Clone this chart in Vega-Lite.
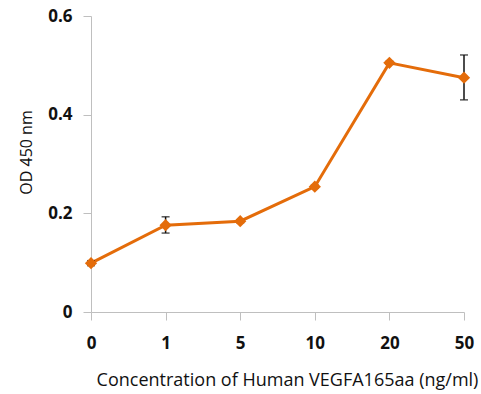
{
  "$schema": "https://vega.github.io/schema/vega-lite/v6.json",
  "width": 373,
  "height": 296,
  "autosize": {"type": "none"},
  "padding": {"left": 91, "top": 16, "right": 17, "bottom": 82},
  "background": "white",
  "config": {"view": {"stroke": null}, "font": "Open Sans"},
  "data": {"values": [
    {"conc": "0", "od": 0.099, "lo": 0.094, "hi": 0.104},
    {"conc": "1", "od": 0.176, "lo": 0.160, "hi": 0.193},
    {"conc": "5", "od": 0.184, "lo": 0.181, "hi": 0.187},
    {"conc": "10", "od": 0.254, "lo": 0.251, "hi": 0.257},
    {"conc": "20", "od": 0.505, "lo": 0.502, "hi": 0.508},
    {"conc": "50", "od": 0.475, "lo": 0.430, "hi": 0.521}
  ]},
  "encoding": {
    "x": {
      "field": "conc", "type": "ordinal", "sort": ["0", "1", "5", "10", "20", "50"],
      "scale": {"type": "point", "padding": 0},
      "axis": {
        "title": "Concentration of Human VEGFA165aa (ng/ml)",
        "labelAngle": 0, "labelFont": "Open Sans", "labelFontWeight": "bold", "labelFontSize": 17,
        "labelColor": "#111", "labelPadding": 15,
        "titleFont": "Open Sans", "titleFontWeight": "normal", "titleFontSize": 18, "titleColor": "#111",
        "titlePadding": 20, "titleX": 196,
        "domainColor": "#bfbfbf", "tickColor": "#bfbfbf", "tickSize": 8, "grid": false
      }
    }
  },
  "layer": [
    {
      "mark": {"type": "line", "color": "#E46C0A", "strokeWidth": 3},
      "encoding": {
        "y": {
          "field": "od", "type": "quantitative",
          "scale": {"domain": [0, 0.6], "nice": false},
          "axis": {
            "title": "OD 450 nm", "values": [0, 0.2, 0.4, 0.6], "format": "~g",
            "labelFont": "Open Sans", "labelFontWeight": "bold", "labelFontSize": 17, "labelColor": "#111",
            "labelPadding": 11,
            "titleFont": "Open Sans", "titleFontWeight": "normal", "titleFontSize": 16, "titleColor": "#111",
            "titlePadding": 13, "titleY": 136,
            "domainColor": "#bfbfbf", "tickColor": "#bfbfbf", "tickSize": 8, "grid": false
          }
        }
      }
    },
    {
      "mark": {"type": "rule", "color": "#111", "strokeWidth": 1.5},
      "encoding": {"y": {"field": "lo", "type": "quantitative"}, "y2": {"field": "hi"}}
    },
    {
      "mark": {"type": "tick", "color": "#111", "size": 8, "thickness": 1.5},
      "encoding": {"y": {"field": "lo", "type": "quantitative"}}
    },
    {
      "mark": {"type": "tick", "color": "#111", "size": 8, "thickness": 1.5},
      "encoding": {"y": {"field": "hi", "type": "quantitative"}}
    },
    {
      "mark": {"type": "point", "shape": "diamond", "filled": true, "color": "#E46C0A", "size": 150, "opacity": 1},
      "encoding": {"y": {"field": "od", "type": "quantitative"}}
    }
  ]
}
